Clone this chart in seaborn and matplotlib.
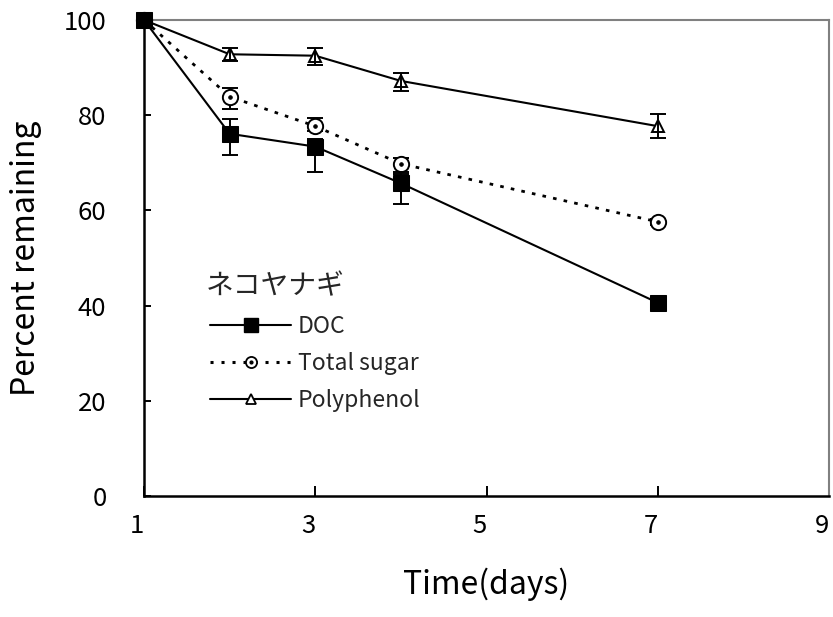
import matplotlib
matplotlib.use("Agg")
import matplotlib.pyplot as plt
import matplotlib.transforms as mtransforms
import seaborn as sns
from matplotlib.lines import Line2D
from matplotlib.legend_handler import HandlerTuple

# ---- data ----
days = [1, 2, 3, 4, 7]
doc = [100, 76.1, 73.4, 65.7, 40.6]
doc_lo = [0, 4.4, 5.4, 4.4, 0.5]
doc_hi = [0, 3.1, 1.6, 2.3, 0.5]
sugar = [100, 83.9, 77.7, 69.8, 57.6]
sugar_lo = [0, 2.6, 1.0, 2.1, 0.6]
sugar_hi = [0, 1.9, 1.7, 1.2, 0.6]
poly = [100, 92.8, 92.5, 87.2, 77.7]
poly_lo = [0, 1.5, 1.9, 2.1, 2.5]
poly_hi = [0, 1.4, 1.6, 1.7, 2.5]
series_names = ["DOC", "Total sugar", "Polyphenol"]
legend_title = "ネコヤナギ"
xticks = [1, 3, 5, 7, 9]
yticks = [0, 20, 40, 60, 80, 100]
xlabel = "Time(days)"
ylabel = "Percent remaining"

sns.set_theme(style="white")
plt.rcParams["font.family"] = ["Noto Sans CJK JP", "DejaVu Sans"]

fig = plt.figure(figsize=(8.33, 6.17), dpi=100)
ax = fig.add_axes([144 / 833, 121 / 617, 685 / 833, 476 / 617])

dotted = (0, (1.3, 2.6))

# lines + markers
sns.lineplot(x=days, y=poly, ax=ax, color="black", lw=1.5, marker="^", markersize=9,
             markerfacecolor="white", markeredgecolor="black", markeredgewidth=1.4,
             zorder=2, clip_on=False)
sns.lineplot(x=days, y=sugar, ax=ax, color="black", lw=2.0, linestyle=dotted, marker="o",
             markersize=11, markerfacecolor="white", markeredgecolor="black",
             markeredgewidth=1.4, zorder=4, clip_on=False)
sns.lineplot(x=days, y=sugar, ax=ax, color="black", lw=0, marker="o", markersize=2.5,
             markerfacecolor="black", markeredgecolor="black", zorder=5, clip_on=False)
sns.lineplot(x=days, y=doc, ax=ax, color="black", lw=1.5, marker="s", markersize=11.5,
             markerfacecolor="black", markeredgecolor="black", zorder=6, clip_on=False)

# error bars
eb_kw = dict(fmt="none", ecolor="black", elinewidth=1.4, capsize=5.5, capthick=1.4, clip_on=False)
ax.errorbar(days[1:], poly[1:], yerr=[poly_lo[1:], poly_hi[1:]], zorder=3, **eb_kw)
ax.errorbar(days[1:], sugar[1:], yerr=[sugar_lo[1:], sugar_hi[1:]], zorder=3.5, **eb_kw)
ax.errorbar(days[1:], doc[1:], yerr=[doc_lo[1:], doc_hi[1:]], zorder=5.5, **eb_kw)

ax.set_xlim(1, 9)
ax.set_ylim(0, 100)
ax.set_xticks(xticks)
ax.set_yticks(yticks)
ax.tick_params(axis="both", direction="in", width=1.4, color="black",
               labelsize=18.5, labelcolor="black", bottom=True, left=True,
               top=False, right=False)
ax.tick_params(axis="y", pad=27, length=5)
ax.tick_params(axis="x", pad=12, length=7)
shift = mtransforms.ScaledTranslation(-7 / 100, 0, fig.dpi_scale_trans)
for lab in ax.get_xticklabels():
    lab.set_transform(lab.get_transform() + shift)
ax.set_xlabel(xlabel, fontsize=23, labelpad=21, color="black")
ax.set_ylabel(ylabel, fontsize=23, labelpad=16, color="black")

for s in ("left", "bottom"):
    ax.spines[s].set_color("black")
    ax.spines[s].set_linewidth(1.8)
for s in ("top", "right"):
    ax.spines[s].set_color("#808080")
    ax.spines[s].set_linewidth(1.5)
ax.set_facecolor("white")

# legend
h_doc = Line2D([], [], color="black", lw=1.5, marker="s", markersize=10.5, markerfacecolor="black")
h_sugar = (Line2D([], [], color="black", lw=2.2, linestyle=(0, (1.0, 2.6))),
           Line2D([], [], color="black", lw=0, marker="o", markersize=8,
                  markerfacecolor="white", markeredgewidth=1.3),
           Line2D([], [], color="black", lw=0, marker="o", markersize=2))
h_poly = Line2D([], [], color="black", lw=1.5, marker="^", markersize=7,
                markerfacecolor="white", markeredgewidth=1.3)
leg = ax.legend([h_doc, h_sugar, h_poly], series_names, title=legend_title,
                loc="upper left", bbox_to_anchor=(199 / 833, 1 - 260 / 617),
                bbox_transform=fig.transFigure, frameon=False, fontsize=16.5,
                title_fontsize=20, handlelength=3.5, handletextpad=0.3,
                labelspacing=0.6, borderpad=0, alignment="left",
                handler_map={tuple: HandlerTuple(ndivide=1, pad=0)})
leg.get_title().set_x(-5)

fig.savefig("out.png", dpi=100, facecolor="white")
